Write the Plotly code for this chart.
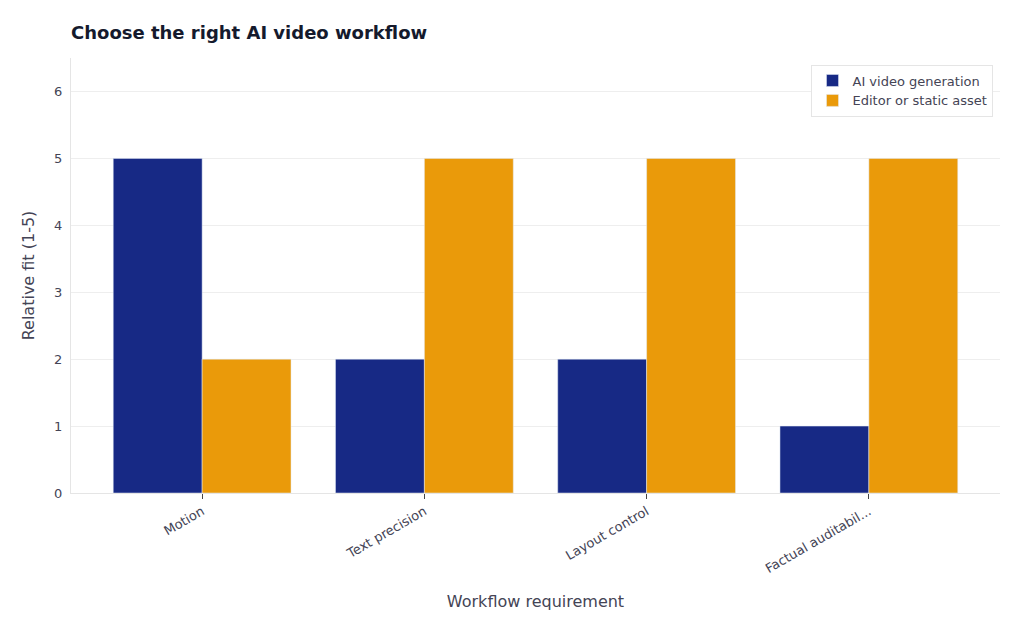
import plotly.graph_objects as go

categories = ["Motion", "Text precision", "Layout control", "Factual auditabil..."]
ai_video = [5, 2, 2, 1]
editor_static = [2, 5, 5, 5]

fig = go.Figure()
fig.add_bar(x=categories, y=ai_video, name="AI video generation", marker_color="#172985")
fig.add_bar(x=categories, y=editor_static, name="Editor or static asset", marker_color="#EA9A0A")

fig.update_layout(
    width=1024, height=631,
    font=dict(family="DejaVu Sans", size=13, color="#444455"),
    title=dict(text="<b>Choose the right AI video workflow</b>", x=63/1024, xanchor="left",
               y=1-25/631, yanchor="middle", font=dict(size=18, color="#151a2d")),
    barmode="group", bargap=0.2, bargroupgap=0,
    plot_bgcolor="white", paper_bgcolor="white",
    margin=dict(l=63, r=32, t=50, b=146),
    legend=dict(x=0.993, y=0.985, xanchor="right", yanchor="top",
                bordercolor="#e5e5e5", borderwidth=1, bgcolor="white", font=dict(size=13)),
    xaxis=dict(title=dict(text="Workflow requirement", standoff=20), tickangle=-30,
               range=[-0.59, 3.59],
               ticks="outside", ticklen=5, tickcolor="#444", showline=True,
               linecolor="#e5e5e5"),
    yaxis=dict(title="Relative fit (1-5)", range=[0, 6.5], dtick=1, gridcolor="#eeeeee",
               showline=True, linecolor="#e5e5e5", zeroline=False, ticklen=5,
               ticks="outside", tickcolor="white"),
)
fig.write_html("out.html")
